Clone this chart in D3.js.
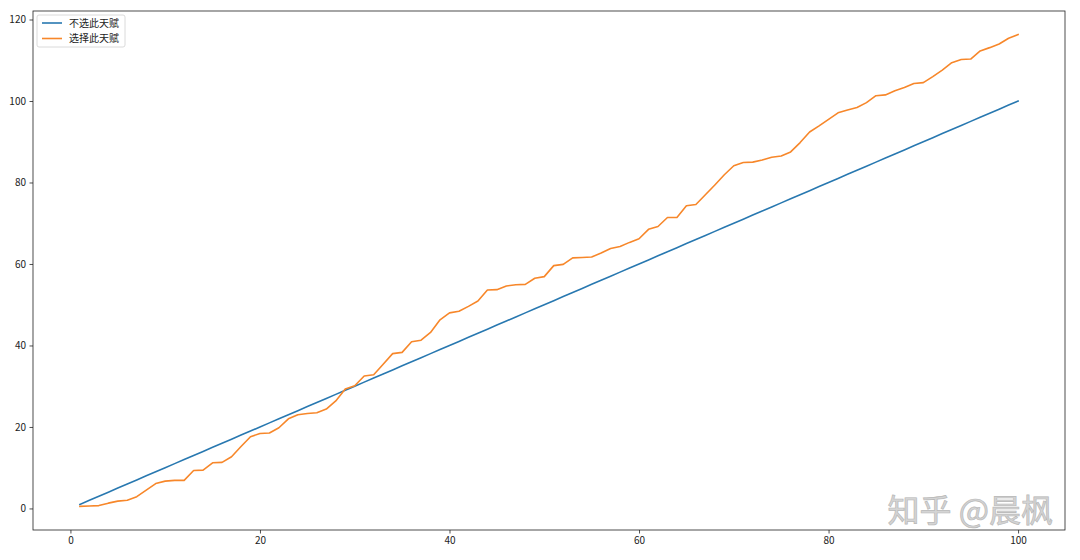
<!DOCTYPE html>
<html>
<head>
<meta charset="utf-8">
<script src="https://cdn.jsdelivr.net/npm/d3@7"></script>
<style>
  html, body { margin: 0; padding: 0; background: #fff; }
  svg { display: block; }
</style>
</head>
<body>
<svg id="chart" width="1080" height="560"></svg>
<script>
const xValues = d3.range(1, 101);
const seriesNames = ["不选此天赋", "选择此天赋"];
const seriesColors = ["#2878b0", "#f7872a"];
const baseValues = xValues.map(d => d);
const talentValues = [
  0.5, 0.6, 0.7, 1.3, 1.8, 2.0, 2.9, 4.5, 6.1, 6.7,
  6.9, 6.9, 9.3, 9.4, 11.2, 11.3, 12.7, 15.2, 17.6, 18.4,
  18.5, 19.8, 22.0, 23.0, 23.3, 23.5, 24.4, 26.4, 29.3, 30.1,
  32.5, 32.8, 35.4, 38.0, 38.3, 40.9, 41.3, 43.2, 46.3, 48.0,
  48.4, 49.6, 50.9, 53.6, 53.7, 54.6, 54.9, 55.0, 56.5, 56.9,
  59.6, 59.9, 61.5, 61.6, 61.7, 62.7, 63.8, 64.3, 65.3, 66.2,
  68.5, 69.2, 71.4, 71.4, 74.3, 74.6, 77.0, 79.4, 81.9, 84.1,
  84.9, 85.0, 85.5, 86.2, 86.5, 87.5, 89.8, 92.4, 93.9, 95.5,
  97.1, 97.8, 98.4, 99.6, 101.3, 101.5, 102.5, 103.3, 104.3, 104.5,
  106.0, 107.6, 109.4, 110.2, 110.3, 112.3, 113.1, 114.0, 115.4, 116.3
];
const xTicks = [0, 20, 40, 60, 80, 100];
const yTicks = [0, 20, 40, 60, 80, 100, 120];
const watermark = "知乎 @晨枫";

const svg = d3.select("#chart");
const L = 33, R = 1065, T = 11, B = 530;

const allY = baseValues.concat(talentValues);
const xMin = d3.min(xValues), xMax = d3.max(xValues);
const yMin = d3.min(allY), yMax = d3.max(allY);
const xm = (xMax - xMin) * 0.05, ym = (yMax - yMin) * 0.05;

const x = d3.scaleLinear().domain([xMin - xm, xMax + xm]).range([L, R]);
const y = d3.scaleLinear().domain([yMin - ym, yMax + ym]).range([B, T]);

const font = "'Noto Sans CJK SC', 'DejaVu Sans', sans-serif";

// lines
const series = [baseValues, talentValues];
const line = d3.line().x((d, i) => x(xValues[i])).y(d => y(d));
series.forEach((vals, k) => {
  svg.append("path")
    .datum(vals)
    .attr("d", line)
    .attr("fill", "none")
    .attr("stroke", seriesColors[k])
    .attr("stroke-width", 1.6)
    .attr("stroke-linejoin", "round")
    .attr("stroke-linecap", "square");
});

// watermark
svg.append("text")
  .attr("x", 1053).attr("y", 522)
  .attr("text-anchor", "end")
  .attr("font-family", font)
  .attr("font-size", 32)
  .attr("fill", "#d4d4d4")
  .attr("stroke", "#b8b8b8")
  .attr("stroke-width", 0.7)
  .text(watermark);

// axes
const xAxis = d3.axisBottom(x).tickValues(xTicks).tickSize(3.5).tickPadding(3.5);
const yAxis = d3.axisLeft(y).tickValues(yTicks).tickSize(3.5).tickPadding(3.5);

const gx = svg.append("g").attr("transform", `translate(0,${B})`).call(xAxis);
const gy = svg.append("g").attr("transform", `translate(${L},0)`).call(yAxis);
[gx, gy].forEach(g => {
  g.select(".domain").remove();
  g.selectAll(".tick line").attr("stroke", "#222").attr("stroke-width", 0.8);
  g.selectAll(".tick text").attr("font-family", font).attr("font-size", 10).attr("fill", "#222");
});

// frame
svg.append("rect")
  .attr("x", L).attr("y", T)
  .attr("width", R - L).attr("height", B - T)
  .attr("fill", "none")
  .attr("stroke", "#222")
  .attr("stroke-width", 0.8);

// legend
const lg = svg.append("g");
lg.append("rect")
  .attr("x", 37).attr("y", 15)
  .attr("width", 88).attr("height", 32)
  .attr("rx", 2).attr("ry", 2)
  .attr("fill", "#fff").attr("fill-opacity", 0.8)
  .attr("stroke", "#d0d0d0").attr("stroke-width", 0.8);
seriesNames.forEach((name, k) => {
  const yy = 23 + k * 15.5;
  lg.append("line")
    .attr("x1", 42).attr("x2", 62)
    .attr("y1", yy).attr("y2", yy)
    .attr("stroke", seriesColors[k]).attr("stroke-width", 1.6);
  lg.append("text")
    .attr("x", 69).attr("y", yy + 3.8)
    .attr("font-family", font).attr("font-size", 10)
    .attr("fill", "#222")
    .text(name);
});
</script>
</body>
</html>
